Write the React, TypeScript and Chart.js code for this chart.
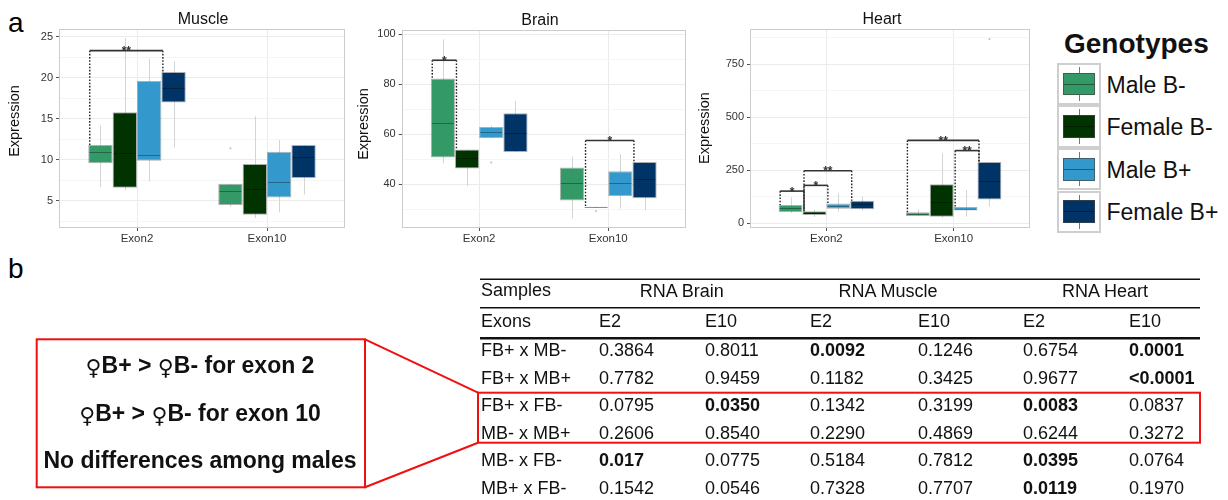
import React, { useEffect, useRef } from 'react';
import { Chart, registerables } from 'chart.js';

Chart.register(...registerables);

const FONT = '"Liberation Sans", Arial, Helvetica, "DejaVu Sans", sans-serif';

// ---------------- Panel a: box plots ----------------
const genotypes = ['Male B-', 'Female B-', 'Male B+', 'Female B+'];
const genotypeColors = ['#339966', '#003300', '#3399cc', '#003366'];
const exonLabels = ['Exon2', 'Exon10'];

// rows: genotype (Male B-, Female B-, Male B+, Female B+); columns: [Exon2, Exon10]
const muscleLow = [[6.7, 4.3], [6.3, 2.9], [7.4, 3.6], [11.5, 5.8]];
const muscleQ1 = [[9.6, 4.5], [6.6, 3.3], [9.9, 5.4], [17.0, 7.8]];
const muscleMedian = [[11.0, 6.2], [10.8, 6.4], [10.6, 7.3], [18.8, 10.3]];
const muscleQ3 = [[11.8, 7.1], [15.8, 9.5], [19.6, 11.0], [20.7, 11.8]];
const muscleHigh = [[14.2, 7.1], [24.8, 15.3], [22.3, 12.4], [22.0, 11.8]];
const muscleOutliers = [[0, 1, 11.4]]; // [genotype, exon, value]
const muscleBrackets = [[0, 0, 3, 23.3, '**']]; // [exon, genotype A, genotype B, height, label]
const muscleTicks = [5, 10, 15, 20, 25];
const muscleMinorTicks = [2.5, 7.5, 12.5, 17.5, 22.5];

const brainLow = [[48.4, 26.4], [39.3, 30.6], [58.5, 30.3], [52.9, 29.7]];
const brainQ1 = [[50.7, 33.5], [46.3, 30.6], [58.5, 35.3], [52.9, 34.4]];
const brainMedian = [[64.4, 40.5], [50.5, 30.8], [61.0, 40.4], [60.5, 42.0]];
const brainQ3 = [[82.3, 46.7], [53.9, 31.0], [62.9, 45.2], [68.4, 48.9]];
const brainHigh = [[98.0, 51.0], [53.9, 31.0], [63.5, 52.1], [73.3, 48.9]];
const brainOutliers = [[2, 0, 48.7], [1, 1, 29.3]];
const brainBrackets = [[0, 0, 1, 89.6, '*'], [1, 1, 3, 57.5, '*']];
const brainTicks = [40, 60, 80, 100];
const brainMinorTicks = [30, 50, 70, 90];

const heartLow = [[48, 35], [30, 27], [55, 31], [60, 79]];
const heartQ1 = [[53, 35], [39, 31], [69, 60], [66, 112]];
const heartMedian = [[74, 42], [48, 100], [82, 68], [90, 200]];
const heartQ3 = [[86, 52], [57, 184], [93, 77], [107, 289]];
const heartHigh = [[123, 66], [65, 330], [141, 157], [126, 289]];
const heartOutliers = [[3, 1, 869]];
const heartBrackets = [
  [0, 0, 1, 152, '*'],
  [0, 1, 2, 179, '*'],
  [0, 1, 3, 248, '**'],
  [1, 0, 3, 391, '**'],
  [1, 2, 3, 343, '**'],
];
const heartTicks = [0, 250, 500, 750];
const heartMinorTicks = [125, 375, 625, 875];

// ---------------- Panel b: table ----------------
const tableRowLabels = ['FB+ x MB-', 'FB+ x MB+', 'FB+ x FB-', 'MB- x MB+', 'MB- x FB-', 'MB+ x FB-'];
const tissueHeaders = ['RNA Brain', 'RNA Muscle', 'RNA Heart'];
const exonHeaders = ['E2', 'E10', 'E2', 'E10', 'E2', 'E10'];
const pBrainE2 = ['0.3864', '0.7782', '0.0795', '0.2606', '0.017', '0.1542'];
const pBrainE10 = ['0.8011', '0.9459', '0.0350', '0.8540', '0.0775', '0.0546'];
const pMuscleE2 = ['0.0092', '0.1182', '0.1342', '0.2290', '0.5184', '0.7328'];
const pMuscleE10 = ['0.1246', '0.3425', '0.3199', '0.4869', '0.7812', '0.7707'];
const pHeartE2 = ['0.6754', '0.9677', '0.0083', '0.6244', '0.0395', '0.0119'];
const pHeartE10 = ['0.0001', '<0.0001', '0.0837', '0.3272', '0.0764', '0.1970'];
const calloutLines = ['♀B+ > ♀B- for exon 2', '♀B+ > ♀B- for exon 10', 'No differences among males'];

type Tissue = {
  low: number[][]; q1: number[][]; med: number[][]; q3: number[][]; high: number[][];
  outliers: any[]; brackets: any[]; major: number[]; minor: number[]; yMin: number; yMax: number;
};

const tissues: Record<string, Tissue> = {
  muscle: { low: muscleLow, q1: muscleQ1, med: muscleMedian, q3: muscleQ3, high: muscleHigh, outliers: muscleOutliers, brackets: muscleBrackets, major: muscleTicks, minor: muscleMinorTicks, yMin: 1.7, yMax: 25.9 },
  brain: { low: brainLow, q1: brainQ1, med: brainMedian, q3: brainQ3, high: brainHigh, outliers: brainOutliers, brackets: brainBrackets, major: brainTicks, minor: brainMinorTicks, yMin: 22.5, yMax: 101.7 },
  heart: { low: heartLow, q1: heartQ1, med: heartMedian, q3: heartQ3, high: heartHigh, outliers: heartOutliers, brackets: heartBrackets, major: heartTicks, minor: heartMinorTicks, yMin: -22, yMax: 915 },
};

function boxPlugin(t: Tissue) {
  return {
    id: 'boxExtras',
    beforeDatasetsDraw(chart: any) {
      const { ctx } = chart;
      const y = chart.scales.y;
      ctx.save();
      ctx.lineWidth = 1;
      ctx.strokeStyle = '#d4d4d4';
      t.low.forEach((row, g) => {
        const meta = chart.getDatasetMeta(g);
        row.forEach((lo, e) => {
          const el = meta.data[e];
          const x = Math.round(el.x) + 0.5;
          ctx.beginPath();
          ctx.moveTo(x, y.getPixelForValue(lo));
          ctx.lineTo(x, y.getPixelForValue(t.high[g][e]));
          ctx.stroke();
        });
      });
      ctx.fillStyle = '#bdbdbd';
      t.outliers.forEach(([g, e, v]) => {
        const el = chart.getDatasetMeta(g).data[e];
        ctx.beginPath();
        ctx.arc(el.x, y.getPixelForValue(v), 1, 0, Math.PI * 2);
        ctx.fill();
      });
      ctx.restore();
    },
    afterDatasetsDraw(chart: any) {
      const { ctx } = chart;
      const y = chart.scales.y;
      ctx.save();
      // medians
      ctx.lineWidth = 1;
      ctx.strokeStyle = 'rgba(0,0,0,0.32)';
      t.med.forEach((row, g) => {
        const meta = chart.getDatasetMeta(g);
        row.forEach((m, e) => {
          const el = meta.data[e];
          const py = Math.round(y.getPixelForValue(m)) + 0.5;
          ctx.beginPath();
          ctx.moveTo(el.x - el.width / 2 + 1, py);
          ctx.lineTo(el.x + el.width / 2 - 1, py);
          ctx.stroke();
        });
      });
      // significance brackets
      t.brackets.forEach(([e, a, b, level, label]) => {
        const ea = chart.getDatasetMeta(a).data[e];
        const eb = chart.getDatasetMeta(b).data[e];
        const xa = ea.x - ea.width / 2 + 1.5;
        const xb = eb.x - eb.width / 2 + 1.5;
        const yl = y.getPixelForValue(level);
        ctx.strokeStyle = '#222';
        ctx.lineWidth = 1.4;
        ctx.setLineDash([1.6, 1.6]);
        ctx.beginPath();
        ctx.moveTo(xa, yl);
        ctx.lineTo(xa, y.getPixelForValue(t.q3[a][e]));
        ctx.moveTo(xb, yl);
        ctx.lineTo(xb, y.getPixelForValue(t.q3[b][e]));
        ctx.stroke();
        ctx.setLineDash([]);
        ctx.strokeStyle = '#333';
        ctx.lineWidth = 1.6;
        ctx.beginPath();
        ctx.moveTo(xa, yl);
        ctx.lineTo(xb, yl);
        ctx.stroke();
        ctx.fillStyle = '#333';
        ctx.font = `bold 12px ${FONT}`;
        ctx.textAlign = 'center';
        ctx.textBaseline = 'alphabetic';
        ctx.fillText(label, (xa + xb) / 2, yl + 4.5);
      });
      ctx.restore();
    },
    afterDraw(chart: any) {
      const { ctx, chartArea: a } = chart;
      ctx.save();
      ctx.strokeStyle = '#cccccc';
      ctx.lineWidth = 1;
      ctx.strokeRect(Math.round(a.left) + 0.5, Math.round(a.top) + 0.5, Math.round(a.width) - 1, Math.round(a.height) - 1);
      ctx.restore();
    },
  };
}

function buildConfig(t: Tissue, padding: any): any {
  const all = [...t.major, ...t.minor].sort((p, q) => p - q);
  return {
    type: 'bar',
    data: {
      datasets: genotypes.map((g, gi) => ({
        label: g,
        data: exonLabels.map((_, e) => ({ x: e + 1, y: [t.q1[gi][e], t.q3[gi][e]] })),
        backgroundColor: genotypeColors[gi],
        borderColor: 'rgba(110,110,110,0.55)',
        borderWidth: 1,
        borderSkipped: false,
        categoryPercentage: 0.75,
        barPercentage: 1,
      })),
    },
    options: {
      responsive: false,
      animation: false,
      events: [],
      layout: { padding },
      plugins: { legend: { display: false }, tooltip: { enabled: false }, title: { display: false } },
      scales: {
        x: {
          type: 'linear',
          min: 0.4,
          max: 2.6,
          offset: false,
          afterBuildTicks: (ax: any) => { ax.ticks = exonLabels.map((_, i) => ({ value: i + 1 })); },
          afterFit: (ax: any) => { ax.height = 22; },
          ticks: {
            autoSkip: false,
            maxRotation: 0,
            padding: 1,
            color: '#333',
            font: { family: FONT, size: 11.5 },
            callback: (v: number) => exonLabels[Math.round(v) - 1] ?? '',
          },
          grid: { offset: false, color: '#ebebeb', tickColor: '#555', tickLength: 3, lineWidth: 1 },
          border: { display: false },
        },
        y: {
          type: 'linear',
          min: t.yMin,
          max: t.yMax,
          beginAtZero: false,
          afterBuildTicks: (ax: any) => { ax.ticks = all.map((v) => ({ value: v })); },
          afterFit: (ax: any) => { ax.width = 40; },
          ticks: {
            autoSkip: false,
            padding: 3,
            color: '#333',
            font: { family: FONT, size: 11 },
            callback: (v: number) => (t.major.includes(v) ? String(v) : ''),
          },
          grid: {
            color: (c: any) => (c.tick && t.major.includes(c.tick.value) ? '#ebebeb' : '#f5f5f5'),
            tickColor: (c: any) => (c.tick && t.major.includes(c.tick.value) ? '#555' : 'rgba(0,0,0,0)'),
            tickLength: 3,
            lineWidth: 1,
          },
          border: { display: false },
        },
      },
    },
    plugins: [boxPlugin(t)],
  };
}

function BoxChart({ tissue, left, width, padding }: { tissue: Tissue; left: number; width: number; padding: any }) {
  const ref = useRef<HTMLCanvasElement>(null);
  useEffect(() => {
    const chart = new Chart(ref.current as HTMLCanvasElement, buildConfig(tissue, padding));
    return () => chart.destroy();
  }, []);
  return (
    <canvas
      ref={ref}
      width={width}
      height={250}
      style={{ position: 'absolute', left, top: 0, width, height: 250 }}
    />
  );
}

function Txt({ x, y, size, children, bold, align = 'left', color = '#111', w = 300 }: any) {
  const lh = Math.round(size * 1.3);
  const left = align === 'center' ? x - w / 2 : x;
  return (
    <div
      style={{
        position: 'absolute',
        left,
        top: y - lh / 2,
        width: align === 'center' ? w : undefined,
        textAlign: align,
        lineHeight: `${lh}px`,
        height: lh,
        fontSize: size,
        fontWeight: bold ? 'bold' : 'normal',
        fontFamily: FONT,
        color,
        whiteSpace: 'nowrap',
      }}
    >
      {children}
    </div>
  );
}

function YTitle({ x, y }: { x: number; y: number }) {
  return (
    <div
      style={{
        position: 'absolute',
        left: x - 60,
        top: y - 9,
        width: 120,
        height: 18,
        lineHeight: '18px',
        textAlign: 'center',
        fontSize: 14.5,
        fontFamily: FONT,
        color: '#111',
        transform: 'rotate(-90deg)',
      }}
    >
      Expression
    </div>
  );
}

function Callout({ text }: { text: string }) {
  const parts = text.split('♀');
  return (
    <>
      {parts.map((p, i) => (
        <React.Fragment key={i}>
          {i > 0 && (
            <span style={{ fontFamily: '"DejaVu Sans", sans-serif', fontWeight: 'normal', fontSize: '0.95em', position: 'relative', top: 2 }}>♀</span>
          )}
          {p}
        </React.Fragment>
      ))}
    </>
  );
}

const isSig = (s: string) => s.startsWith('<') || parseFloat(s) < 0.05;

export default function App() {
  const pColumns = [pBrainE2, pBrainE10, pMuscleE2, pMuscleE10, pHeartE2, pHeartE10];
  const colX = [599, 705, 810, 918, 1023, 1129];
  const headerX = [681.7, 888, 1105];
  const rowY = (i: number) => 350.7 + i * 27.5;
  const keyTop = 62.7;
  const keyH = 42.6;
  const red = '#f01010';

  return (
    <div style={{ position: 'absolute', left: 0, top: 0, width: 1228, height: 500, background: '#fff', overflow: 'hidden' }}>
      {/* panel labels */}
      <div style={{ position: 'absolute', left: 8, top: 9, fontSize: 28, lineHeight: '28px', fontFamily: FONT, color: '#000' }}>a</div>
      <div style={{ position: 'absolute', left: 8, top: 255, fontSize: 28, lineHeight: '28px', fontFamily: FONT, color: '#000' }}>b</div>

      {/* charts */}
      <BoxChart tissue={tissues.muscle} left={0} width={350} padding={{ left: 19, right: 5, top: 29.3, bottom: 0 }} />
      <BoxChart tissue={tissues.brain} left={345} width={345} padding={{ left: 16.7, right: 4.3, top: 30, bottom: 0 }} />
      <BoxChart tissue={tissues.heart} left={690} width={345} padding={{ left: 20, right: 5, top: 29.3, bottom: 0 }} />

      <Txt x={203} y={18} size={16} align="center" w={120}>Muscle</Txt>
      <Txt x={540} y={19} size={16} align="center" w={120}>Brain</Txt>
      <Txt x={882} y={18.5} size={16} align="center" w={120}>Heart</Txt>
      <YTitle x={14} y={121} />
      <YTitle x={362.5} y={124} />
      <YTitle x={704} y={128} />

      {/* legend */}
      <Txt x={1064} y={44} size={28} bold>Genotypes</Txt>
      {genotypes.map((g, i) => {
        const top = keyTop + i * keyH;
        const cy = top + keyH / 2;
        return (
          <React.Fragment key={g}>
            <div style={{ position: 'absolute', left: 1057, top, width: 44, height: keyH, border: '2px solid #cfcfcf', boxSizing: 'border-box' }} />
            <div style={{ position: 'absolute', left: 1078.5, top: top + 4, width: 1, height: keyH - 8, background: '#777' }} />
            <div style={{ position: 'absolute', left: 1062.7, top: cy - 11.4, width: 32.6, height: 22.8, background: genotypeColors[i], border: '1px solid rgba(70,70,70,0.7)', boxSizing: 'border-box' }} />
            <div style={{ position: 'absolute', left: 1063.7, top: cy - 0.5, width: 30.6, height: 1, background: 'rgba(0,0,0,0.4)' }} />
            <Txt x={1106.5} y={cy + 0.5} size={23}>{g}</Txt>
          </React.Fragment>
        );
      })}

      {/* red callout + connecting lines */}
      <svg width={1228} height={500} style={{ position: 'absolute', left: 0, top: 0 }}>
        <rect x={36.7} y={339.3} width={328.3} height={148} fill="none" stroke={red} strokeWidth={2} />
        <line x1={365} y1={339.3} x2={478} y2={392.7} stroke={red} strokeWidth={2} />
        <line x1={365} y1={487.3} x2={478} y2={442.7} stroke={red} strokeWidth={2} />
        <rect x={478} y={392.7} width={722} height={50} fill="none" stroke={red} strokeWidth={2} />
        <line x1={480} y1={279.3} x2={1200} y2={279.3} stroke="#111" strokeWidth={1.5} />
        <line x1={480} y1={307.7} x2={1200} y2={307.7} stroke="#111" strokeWidth={1.5} />
        <line x1={480} y1={338.3} x2={1200} y2={338.3} stroke="#111" strokeWidth={2.5} />
      </svg>

      {calloutLines.map((s, i) => (
        <Txt key={s} x={200} y={365 + i * 47.5} size={23} bold align="center" w={330}><Callout text={s} /></Txt>
      ))}

      {/* table */}
      <Txt x={481} y={290.7} size={18}>Samples</Txt>
      {tissueHeaders.map((h, i) => (
        <Txt key={h} x={headerX[i]} y={291.5} size={18} align="center" w={160}>{h}</Txt>
      ))}
      <Txt x={481} y={321} size={18}>Exons</Txt>
      {exonHeaders.map((h, i) => (
        <Txt key={i} x={colX[i]} y={321.5} size={18}>{h}</Txt>
      ))}
      {tableRowLabels.map((r, i) => (
        <React.Fragment key={r}>
          <Txt x={481} y={rowY(i)} size={18}>{r}</Txt>
          {pColumns.map((col, c) => (
            <Txt key={c} x={colX[c]} y={rowY(i)} size={18} bold={isSig(col[i])}>{col[i]}</Txt>
          ))}
        </React.Fragment>
      ))}
    </div>
  );
}
